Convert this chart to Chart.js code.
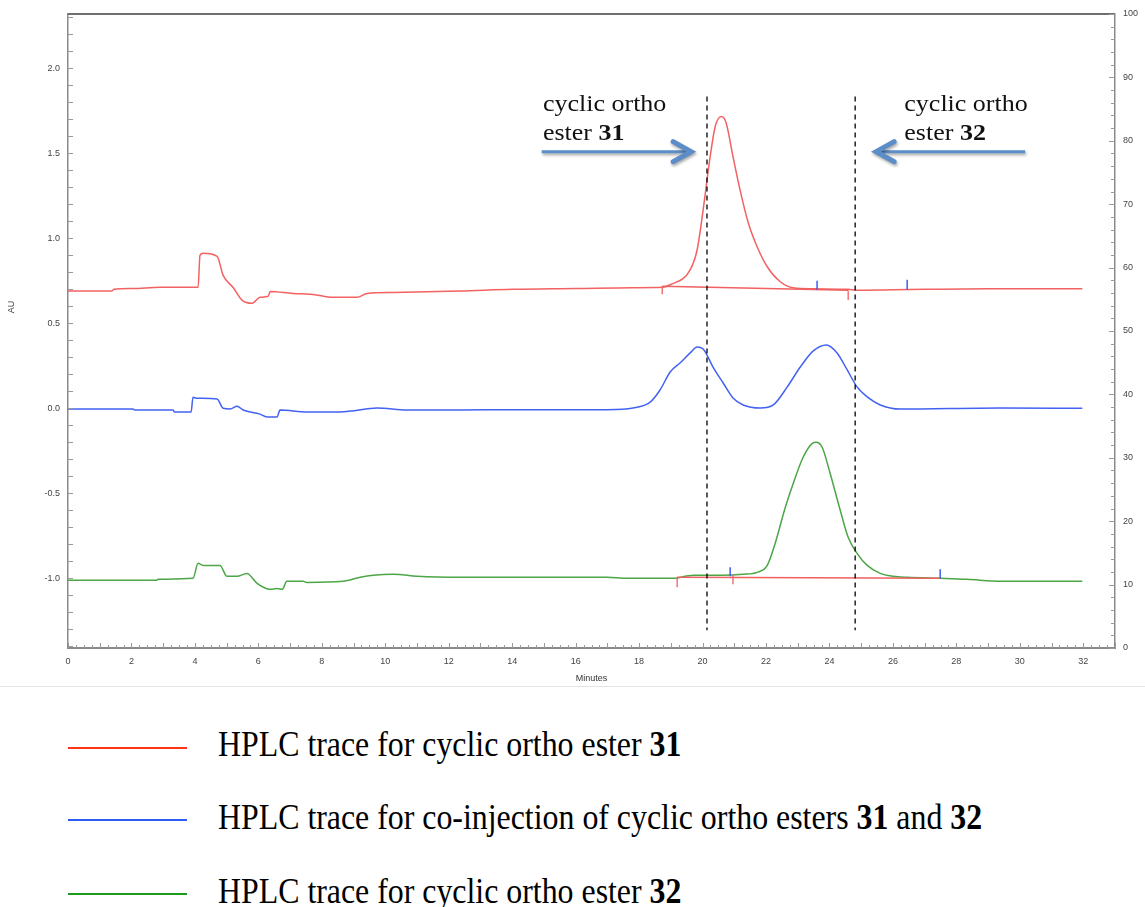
<!DOCTYPE html>
<html>
<head>
<meta charset="utf-8">
<title>HPLC traces</title>
<script src="https://cdn.jsdelivr.net/npm/chart.js@4.4.1/dist/chart.umd.min.js"></script>
<style>
    html, body { margin: 0; padding: 0; background: #fff; }
    #wrap { position: relative; width: 1145px; height: 907px; overflow: hidden; }
    #chartBox { position: absolute; left: 0; top: 0; width: 1145px; height: 686px; border-bottom: 1px solid #e4e4e4; }
    .legend-line { position: absolute; left: 68px; width: 119px; height: 2px; }
    .legend-text {
        position: absolute; left: 218px;
        font-family: "Liberation Serif", "Times New Roman", serif;
        font-size: 35px; line-height: 1; white-space: nowrap;
        transform: scaleX(0.91); transform-origin: left center;
        color: #000;
    }
</style>
</head>
<body>
<div id="wrap">
    <div id="chartBox"><canvas id="hplc" width="1145" height="686"></canvas></div>

    <div class="legend-line" style="top:747px;background:#ff3414"></div>
    <div class="legend-text" style="top:727px">HPLC trace for cyclic ortho ester <b>31</b></div>

    <div class="legend-line" style="top:819px;background:#2d5cf5"></div>
    <div class="legend-text" style="top:800px">HPLC trace for co-injection of cyclic ortho esters <b>31</b> and <b>32</b></div>

    <div class="legend-line" style="top:893px;background:#1e9a1e"></div>
    <div class="legend-text" style="top:874px">HPLC trace for cyclic ortho ester <b>32</b></div>
</div>

<script>
// === DATA (minutes / AU) ===
const redTime = [0, 1.38, 1.45, 2.05, 2.9, 4.1, 4.16, 4.26, 4.7, 4.89, 5.2, 5.49, 5.8, 6.05, 6.31, 6.37, 7.09, 7.72, 8.35, 9.11,
    9.43, 10.25, 12.36, 14.0, 16.0, 17.8, 18.73, 18.98, 19.61, 19.83, 20.02, 20.24, 20.4, 20.59, 20.74, 20.96, 21.18, 21.44, 21.72, 22.04,
    22.45, 22.86, 23.49, 24.59, 24.87, 26.0, 27.0, 29.0, 31.97];
const redAU = [0.69, 0.69, 0.70, 0.705, 0.712, 0.712, 0.90, 0.912, 0.894, 0.782, 0.712, 0.635, 0.618, 0.653, 0.659, 0.688, 0.676, 0.67, 0.653, 0.653,
    0.676, 0.682, 0.69, 0.70, 0.705, 0.71, 0.712, 0.727, 0.815, 0.933, 1.169, 1.481, 1.658, 1.717, 1.682, 1.481, 1.287, 1.092, 0.951, 0.833,
    0.745, 0.709, 0.703, 0.70, 0.695, 0.698, 0.70, 0.703, 0.703];

const blueTime = [0, 2.05, 2.1, 3.31, 3.36, 3.88, 3.94, 4.05, 4.7, 4.89, 5.11, 5.33, 5.52, 6.05, 6.27, 6.59, 6.68, 7.53, 8.35, 8.89,
    9.74, 10.69, 12.36, 14.0, 17.0, 17.81, 18.35, 18.66, 18.98, 19.29, 19.61, 19.83, 20.02, 20.33, 20.65, 20.96, 21.28, 21.82, 22.23, 22.67,
    23.08, 23.49, 23.9, 24.24, 24.56, 24.87, 25.19, 25.6, 26.23, 29.38, 31.97];
const blueAU = [-0.004, -0.004, -0.01, -0.01, -0.022, -0.022, 0.065, 0.06, 0.055, 0.0, -0.004, 0.012, -0.01, -0.034, -0.051, -0.051, -0.01, -0.022, -0.022, -0.016,
    0.002, -0.01, -0.01, -0.008, -0.008, 0.002, 0.037, 0.108, 0.214, 0.267, 0.326, 0.361, 0.349, 0.243, 0.149, 0.061, 0.02, 0.002, 0.02, 0.126,
    0.243, 0.338, 0.373, 0.326, 0.226, 0.126, 0.067, 0.02, -0.004, 0.002, 0.0];

const greenTime = [0, 2.78, 2.84, 3.94, 4.1, 4.26, 4.79, 5.01, 5.33, 5.64, 5.96, 6.37, 6.59, 6.75, 6.9, 7.41, 7.53, 8.67, 9.21, 9.62,
    10.25, 11.0, 12.36, 17.0, 17.6, 19.07, 19.7, 20.6, 21.28, 21.72, 22.04, 22.29, 22.6, 22.86, 23.17, 23.46, 23.58, 23.77, 24.02, 24.34,
    24.59, 24.87, 25.19, 25.6, 26.01, 26.45, 27.49, 28.34, 29.38, 31.97];
const greenAU = [-1.012, -1.012, -1.006, -1.0, -0.912, -0.924, -0.924, -0.988, -0.988, -0.971, -1.03, -1.065, -1.06, -1.065, -1.018, -1.018, -1.024, -1.018, -0.994, -0.982,
    -0.976, -0.988, -0.994, -0.994, -1.0, -1.0, -0.982, -0.982, -0.976, -0.965, -0.924, -0.794, -0.588, -0.441, -0.288, -0.206, -0.2, -0.229, -0.382, -0.6,
    -0.759, -0.853, -0.924, -0.971, -0.988, -0.994, -1.0, -1.006, -1.018, -1.018];

// integration baselines and peak markers
const redBaseStart = [18.73, 19.2];
const redBaseStartAU = [0.718, -0.994];
const redBaseEnd = [24.59, 27.49];
const redBaseEndAU = [0.695, -1.0];

const redMarkTime = [18.73, 24.59, 19.2, 20.96];
const redMarkTop = [0.718, 0.693, -0.994, -0.982];
const redMarkBottom = [0.671, 0.638, -1.053, -1.035];

const blueMarkTime = [23.61, 26.45, 20.87, 27.49];
const blueMarkTop = [0.750, 0.756, -0.935, -0.947];
const blueMarkBottom = [0.697, 0.697, -0.988, -1.0];

// dashed retention-time guides
const dashTime = [20.14, 24.81];
const dashTopAU = 1.834;
const dashBottomAU = -1.306;

// axes
const xMin = 0, xMax = 33.0;
const auMin = -1.41, auMax = 2.32;
const pctMin = 0, pctMax = 100;

// annotations: [time, AU] anchors
const noteLeft = { x: 14.97, y1: 1.748, y2: 1.581, num: "31" };
const noteRight = { x: 26.36, y1: 1.748, y2: 1.581, num: "32" };
const arrowLeft = { from: 14.93, to: 19.64, y: 1.510 };
const arrowRight = { from: 30.17, to: 25.47, y: 1.510 };

// === HELPERS ===
const toPoints = (xs, ys) => xs.map((x, i) => ({ x: x, y: ys[i] }));

function segments(xs, tops, bottoms) {
    const pts = [];
    xs.forEach((x, i) => {
        pts.push({ x: x, y: tops[i] });
        pts.push({ x: x, y: bottoms[i] });
        pts.push({ x: x, y: null });
    });
    return pts;
}

function baselineSegments() {
    const pts = [];
    redBaseStart.forEach((x, i) => {
        pts.push({ x: x, y: redBaseStartAU[i] });
        pts.push({ x: redBaseEnd[i], y: redBaseEndAU[i] });
        pts.push({ x: redBaseEnd[i], y: null });
    });
    return pts;
}

const LABEL_FONT = { family: "'Liberation Sans', Arial, sans-serif", size: 9 };
const SERIF = "'Liberation Serif', 'Times New Roman', serif";

// frame, inward ticks, arrows and notes
const decorPlugin = {
    id: "hplcDecor",
    afterDraw(chart) {
        const { ctx, chartArea: a } = chart;
        const x = chart.scales.x, y = chart.scales.y, y2 = chart.scales.y2;
        ctx.save();

        // top frame line
        ctx.strokeStyle = "#6f6f6f";
        ctx.lineWidth = 2;
        ctx.beginPath();
        ctx.moveTo(a.left, a.top);
        ctx.lineTo(a.right, a.top);
        ctx.stroke();

        // inward tick marks
        ctx.strokeStyle = "#9a9a9a";
        ctx.lineWidth = 1;
        ctx.beginPath();
        for (let i = 0; i * 0.25 <= xMax; i++) {
            const px = Math.round(x.getPixelForValue(i * 0.25)) + 0.5;
            const len = i % 4 === 0 ? 5 : 3;
            ctx.moveTo(px, a.bottom);
            ctx.lineTo(px, a.bottom - len);
        }
        for (let v = -14; v <= 23; v++) {
            const py = Math.round(y.getPixelForValue(v / 10)) + 0.5;
            ctx.moveTo(a.left, py);
            ctx.lineTo(a.left + 5, py);
        }
        for (let v = 0; v <= 100; v += 2) {
            const py = Math.round(y2.getPixelForValue(v)) + 0.5;
            const len = v % 10 === 0 ? 6 : 4;
            ctx.moveTo(a.right, py);
            ctx.lineTo(a.right - len, py);
        }
        ctx.stroke();

        // "AU" axis title
        ctx.fillStyle = "#444";
        ctx.font = "9px " + LABEL_FONT.family;
        ctx.textAlign = "center";
        ctx.textBaseline = "middle";
        ctx.translate(12, 307);
        ctx.rotate(-Math.PI / 2);
        ctx.fillText("AU", 0, 0);
        ctx.restore();

        // arrows
        ctx.save();
        ctx.strokeStyle = "#5b8dc8";
        ctx.shadowColor = "rgba(0,0,0,0.35)";
        ctx.shadowBlur = 3;
        ctx.shadowOffsetX = 1;
        ctx.shadowOffsetY = 2;
        [arrowLeft, arrowRight].forEach((ar) => {
            const x0 = x.getPixelForValue(ar.from);
            const x1 = x.getPixelForValue(ar.to);
            const py = y.getPixelForValue(ar.y);
            const dir = Math.sign(x1 - x0);
            ctx.lineCap = "butt";
            ctx.lineWidth = 3;
            ctx.beginPath();
            ctx.moveTo(x0, py);
            ctx.lineTo(x1 - dir * 3, py);
            ctx.stroke();
            ctx.lineWidth = 5;
            ctx.lineCap = "round";
            ctx.lineJoin = "miter";
            ctx.beginPath();
            ctx.moveTo(x1 - dir * 18, py - 10);
            ctx.lineTo(x1, py);
            ctx.lineTo(x1 - dir * 18, py + 10);
            ctx.stroke();
        });
        ctx.restore();

        // notes
        [noteLeft, noteRight].forEach((n) => {
            const px = x.getPixelForValue(n.x);
            ctx.save();
            ctx.fillStyle = "#111";
            ctx.textAlign = "left";
            ctx.textBaseline = "alphabetic";
            ctx.translate(px, y.getPixelForValue(n.y1));
            ctx.scale(1.13, 1);
            ctx.font = "23px " + SERIF;
            ctx.fillText("cyclic ortho", 0, 0);
            ctx.restore();

            ctx.save();
            ctx.fillStyle = "#111";
            ctx.translate(px, y.getPixelForValue(n.y2));
            ctx.scale(1.13, 1);
            ctx.font = "23px " + SERIF;
            ctx.fillText("ester ", 0, 0);
            const w = ctx.measureText("ester ").width;
            ctx.font = "bold 23px " + SERIF;
            ctx.fillText(n.num, w, 0);
            ctx.restore();
        });
    },
};

const traceStyle = {
    pointRadius: 0,
    borderWidth: 1.5,
    fill: false,
    cubicInterpolationMode: "monotone",
};

const chart = new Chart(document.getElementById("hplc"), {
    type: "line",
    data: {
        datasets: [
            {
                label: "dash",
                data: segments(dashTime, dashTime.map(() => dashTopAU), dashTime.map(() => dashBottomAU)),
                borderColor: "#000",
                borderWidth: 1.3,
                borderDash: [5, 4],
                pointRadius: 0,
                spanGaps: false,
            },
            {
                label: "blue marks",
                data: segments(blueMarkTime, blueMarkTop, blueMarkBottom),
                borderColor: "#3f5cf2",
                borderWidth: 1.5,
                pointRadius: 0,
                spanGaps: false,
            },
            {
                label: "red marks",
                data: segments(redMarkTime, redMarkTop, redMarkBottom),
                borderColor: "#f06060",
                borderWidth: 1.3,
                pointRadius: 0,
                spanGaps: false,
            },
            {
                label: "red baseline",
                data: baselineSegments(),
                borderColor: "#f06060",
                borderWidth: 1.5,
                pointRadius: 0,
                spanGaps: false,
            },
            Object.assign({ label: "HPLC trace for cyclic ortho ester 31", data: toPoints(redTime, redAU), borderColor: "#f26262" }, traceStyle),
            Object.assign({ label: "HPLC trace for co-injection", data: toPoints(blueTime, blueAU), borderColor: "#4262f2" }, traceStyle),
            Object.assign({ label: "HPLC trace for cyclic ortho ester 32", data: toPoints(greenTime, greenAU), borderColor: "#4ca646" }, traceStyle),
        ],
    },
    options: {
        responsive: false,
        devicePixelRatio: 1,
        animation: false,
        parsing: true,
        layout: { padding: { top: 14, left: 0, right: 0, bottom: 0 } },
        plugins: {
            legend: { display: false },
            tooltip: { enabled: false },
        },
        scales: {
            x: {
                type: "linear",
                position: "bottom",
                min: xMin,
                max: xMax,
                grid: { display: false, drawTicks: false },
                border: { display: true, color: "#8a8a8a", width: 2 },
                ticks: { stepSize: 2, padding: 8, color: "#444", font: LABEL_FONT, maxRotation: 0, autoSkip: false },
                title: { display: true, text: "Minutes", color: "#333", font: LABEL_FONT, padding: { top: 0, bottom: 2 } },
                afterBuildTicks: (s) => { s.ticks = s.ticks.filter((t) => t.value % 2 === 0); },
                afterFit: (s) => { s.height = 38; },
            },
            y: {
                type: "linear",
                position: "left",
                min: auMin,
                max: auMax,
                grid: { display: false, drawTicks: false },
                border: { display: true, color: "#8a8a8a", width: 1.5 },
                ticks: { stepSize: 0.5, padding: 8, color: "#444", font: LABEL_FONT, callback: (v) => v.toFixed(1) },
                afterBuildTicks: (s) => { s.ticks = s.ticks.filter((t) => Math.abs(t.value * 2 - Math.round(t.value * 2)) < 1e-6); },
                afterFit: (s) => { s.width = 68; },
            },
            y2: {
                type: "linear",
                position: "right",
                min: pctMin,
                max: pctMax,
                grid: { display: false, drawTicks: false },
                border: { display: true, color: "#8a8a8a", width: 1.5 },
                ticks: { stepSize: 10, padding: 8, color: "#444", font: LABEL_FONT },
                afterFit: (s) => { s.width = 30; },
            },
        },
    },
    plugins: [decorPlugin],
});
</script>
</body>
</html>
